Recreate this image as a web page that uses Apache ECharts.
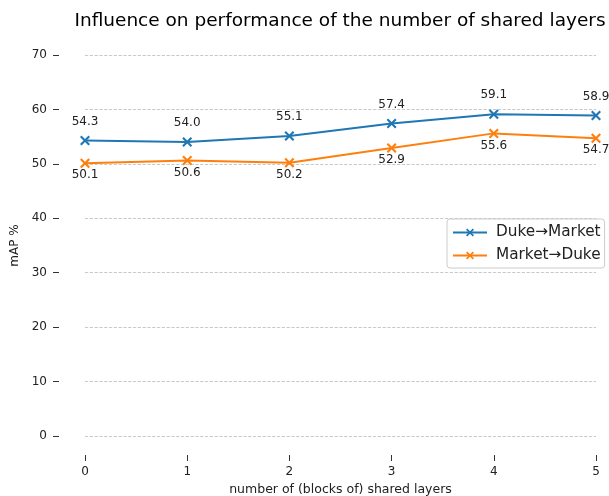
<!DOCTYPE html>
<html>
<head>
    <meta charset="utf-8">
    <title>shared layers</title>
    <script src="https://cdn.jsdelivr.net/npm/echarts@6/dist/echarts.min.js"></script>
    <style>
        html, body { margin: 0; padding: 0; background: #fff; }
        #main { width: 609px; height: 496px; }
    </style>
</head>
<body>
    <div id="main"></div>
    <script>
        // data
        var layers = [0, 1, 2, 3, 4, 5];
        var dukeToMarket = [54.3, 54.0, 55.1, 57.4, 59.1, 58.9];
        var marketToDuke = [50.1, 50.6, 50.2, 52.9, 55.6, 54.7];
        var seriesNames = ['Duke→Market', 'Market→Duke'];

        var font = 'DejaVu Sans';
        // matplotlib-like "x" marker
        var xMark = 'path://M0,1.5L1.5,0L5,3.5L8.5,0L10,1.5L6.5,5L10,8.5L8.5,10L5,6.5L1.5,10L0,8.5L3.5,5Z';

        function pairs(vals) {
            return layers.map(function (x, i) { return [x, vals[i]]; });
        }

        // axes drawn detached from the plot (offset spines), so they get own grids
        var hidden = { show: false };
        var tickStyle = { show: true, inside: false, length: 6, lineStyle: { color: '#333', width: 1 } };
        var lblStyle = { fontSize: 12, color: '#222', fontFamily: font };

        var myChart = echarts.init(document.getElementById('main'));
        myChart.setOption({
            animation: false,
            textStyle: { fontFamily: font },
            title: {
                text: 'Influence on performance of the number of shared layers',
                left: 335,
                textAlign: 'center',
                top: 7,
                textStyle: { fontFamily: font, fontSize: 18.5, fontWeight: 'normal', color: '#000' }
            },
            legend: {
                data: seriesNames,
                orient: 'vertical',
                left: 447,
                top: 219,
                itemWidth: 34,
                itemHeight: 10,
                itemGap: 8,
                padding: [6, 4, 5, 5],
                borderColor: '#ccc',
                borderWidth: 1,
                borderRadius: 3,
                backgroundColor: '#fff',
                textStyle: { fontFamily: font, fontSize: 15.3, color: '#222', padding: [0, 0, 0, 4] }
            },
            grid: [
                { left: 85, right: 13, top: 55, bottom: 60, outerBoundsMode: 'none' },   // plot
                { left: 59, right: 13, top: 55, bottom: 60, outerBoundsMode: 'none' },   // y ticks
                { left: 85, right: 13, top: 55, bottom: 41, outerBoundsMode: 'none' }    // x ticks
            ],
            xAxis: [{
                gridIndex: 0, type: 'value', min: 0, max: 5, interval: 1,
                axisLine: hidden, axisTick: hidden, axisLabel: hidden, splitLine: hidden
            }, {
                gridIndex: 1, type: 'value', min: 0, max: 5, interval: 1,
                axisLine: hidden, axisTick: hidden, axisLabel: hidden, splitLine: hidden
            }, {
                gridIndex: 2, type: 'value', min: 0, max: 5, interval: 1,
                axisLine: hidden,
                axisTick: tickStyle,
                axisLabel: Object.assign({ margin: 11 }, lblStyle),
                splitLine: hidden,
                name: 'number of (blocks of) shared layers',
                nameLocation: 'middle',
                nameGap: 26,
                nameTextStyle: { fontSize: 12.5, color: '#222', fontFamily: font }
            }],
            yAxis: [{
                gridIndex: 0, type: 'value', min: 0, max: 70, interval: 10,
                axisLine: hidden, axisTick: hidden, axisLabel: hidden,
                splitLine: { show: true, lineStyle: { type: 'dashed', color: '#bbb', width: 0.8 } }
            }, {
                gridIndex: 1, type: 'value', min: 0, max: 70, interval: 10,
                axisLine: hidden,
                axisTick: tickStyle,
                axisLabel: Object.assign({ margin: 12 }, lblStyle),
                splitLine: hidden,
                name: 'mAP %',
                nameLocation: 'middle',
                nameGap: 33,
                nameTextStyle: { fontSize: 12, color: '#222', fontFamily: font }
            }, {
                gridIndex: 2, type: 'value', min: 0, max: 70, interval: 10,
                axisLine: hidden, axisTick: hidden, axisLabel: hidden, splitLine: hidden
            }],
            series: [{
                name: seriesNames[0],
                type: 'line',
                xAxisIndex: 0, yAxisIndex: 0,
                data: pairs(dukeToMarket),
                symbol: xMark,
                symbolSize: 10,
                color: '#1f77b4',
                lineStyle: { width: 2 },
                label: {
                    show: true, position: 'top', distance: 8,
                    fontSize: 12, color: '#222', fontFamily: font,
                    formatter: function (p) { return p.value[1].toFixed(1); }
                }
            }, {
                name: seriesNames[1],
                type: 'line',
                xAxisIndex: 0, yAxisIndex: 0,
                data: pairs(marketToDuke),
                symbol: xMark,
                symbolSize: 10,
                color: '#ff7f0e',
                lineStyle: { width: 2 },
                label: {
                    show: true, position: 'bottom', distance: 1,
                    fontSize: 12, color: '#222', fontFamily: font,
                    formatter: function (p) { return p.value[1].toFixed(1); }
                }
            }]
        });
    </script>
</body>
</html>
